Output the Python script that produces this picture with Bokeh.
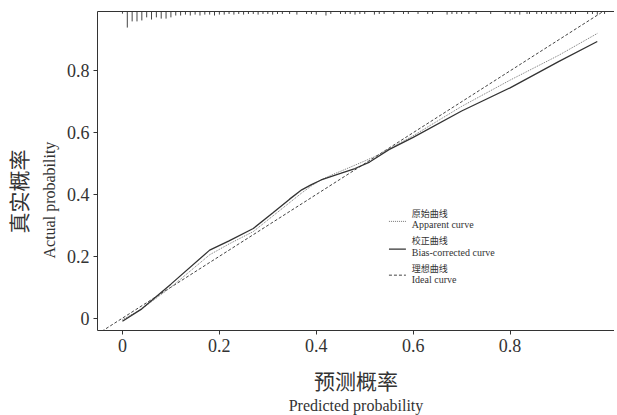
from bokeh.plotting import figure
from bokeh.models import Range1d, FixedTicker, NumeralTickFormatter, LinearAxis, Title, Label
from bokeh.embed import file_html
from bokeh.resources import INLINE

# ---- data ----
ticks = [0, 0.2, 0.4, 0.6, 0.8]

apparent_x = [0.00, 0.04, 0.10, 0.18, 0.22, 0.27, 0.31, 0.35, 0.37, 0.39, 0.41, 0.43, 0.45, 0.48, 0.52, 0.60, 0.70, 0.80, 0.90, 0.98]
apparent_y = [-0.005, 0.03, 0.10, 0.205, 0.24, 0.28, 0.33, 0.38, 0.405, 0.428, 0.447, 0.462, 0.475, 0.495, 0.522, 0.59, 0.685, 0.77, 0.85, 0.921]

corrected_x = [0.00, 0.04, 0.10, 0.18, 0.22, 0.27, 0.31, 0.345, 0.37, 0.39, 0.41, 0.43, 0.45, 0.48, 0.51, 0.55, 0.60, 0.70, 0.80, 0.90, 0.98]
corrected_y = [-0.01, 0.03, 0.11, 0.22, 0.25, 0.29, 0.34, 0.385, 0.415, 0.432, 0.447, 0.458, 0.468, 0.484, 0.505, 0.545, 0.585, 0.67, 0.745, 0.83, 0.895]

ideal_x = [-0.06, 1.02]
ideal_y = [-0.06, 1.02]

rug_x = [0.00, 0.01, 0.02, 0.03, 0.04, 0.05, 0.06, 0.07, 0.08, 0.09, 0.10,
         0.11, 0.12, 0.13, 0.14, 0.15, 0.16, 0.17, 0.18, 0.19, 0.20, 0.21,
         0.22, 0.23, 0.24, 0.25, 0.26, 0.27, 0.28, 0.29, 0.30, 0.31, 0.32,
         0.33, 0.345, 0.36, 0.38, 0.39, 0.40, 0.42, 0.43, 0.45, 0.46, 0.47,
         0.48, 0.49, 0.50, 0.52, 0.53, 0.54, 0.56, 0.58, 0.59, 0.61, 0.63,
         0.64, 0.67, 0.68, 0.69, 0.70, 0.715, 0.73, 0.76, 0.79, 0.80, 0.81,
         0.82, 0.835, 0.84, 0.855, 0.865, 0.875, 0.885, 0.895, 0.905, 0.915,
         0.925, 0.935, 0.96, 0.97, 0.98, 0.995]
rug_len = [0.007, 0.052, 0.032, 0.032, 0.029, 0.019, 0.026, 0.019, 0.023, 0.023, 0.019,
           0.013, 0.013, 0.010, 0.013, 0.010, 0.013, 0.010, 0.010, 0.013, 0.010, 0.010,
           0.008, 0.010, 0.008, 0.010, 0.008, 0.008, 0.010, 0.008, 0.008, 0.010, 0.008,
           0.008, 0.008, 0.010, 0.008, 0.008, 0.010, 0.013, 0.008, 0.008, 0.008, 0.008,
           0.010, 0.008, 0.008, 0.010, 0.008, 0.008, 0.008, 0.008, 0.008, 0.008, 0.008,
           0.008, 0.010, 0.008, 0.008, 0.008, 0.008, 0.008, 0.008, 0.008, 0.008, 0.008,
           0.010, 0.008, 0.008, 0.008, 0.008, 0.008, 0.008, 0.008, 0.008, 0.008,
           0.008, 0.008, 0.008, 0.008, 0.010, 0.008]

legend_labels_cn = ["原始曲线", "校正曲线", "理想曲线"]
legend_labels_en = ["Apparent curve", "Bias-corrected curve", "Ideal curve"]

# ---- figure ----
X0, X1 = -0.0515, 1.0155
Y0, Y1 = -0.040, 0.992

p = figure(width=614, height=415, output_backend="svg", toolbar_location=None,
           x_range=Range1d(X0, X1), y_range=Range1d(Y0, Y1),
           min_border_left=96, min_border_right=0, min_border_top=11, min_border_bottom=85)
p.outline_line_color = None
p.grid.visible = False
p.background_fill_color = "white"

serif = "Liberation Serif"
cjk = "Noto Sans CJK SC"
ink = "#333333"

for ax in (p.xaxis[0], p.yaxis[0]):
    ax.ticker = FixedTicker(ticks=ticks)
    ax.formatter = NumeralTickFormatter(format="0.[0]")
    ax.major_label_text_font = serif
    ax.major_label_text_font_size = "18px"
    ax.major_label_text_color = ink
    ax.major_tick_in = 0
    ax.major_tick_out = 4
    ax.minor_tick_line_color = None
    ax.axis_line_color = ink
    ax.major_tick_line_color = ink
    ax.axis_label_text_font_style = "normal"
    ax.axis_label_text_color = ink

p.xaxis[0].axis_label = "预测概率"
p.xaxis[0].axis_label_text_font = cjk
p.xaxis[0].axis_label_text_font_size = "21px"
p.xaxis[0].axis_label_standoff = 10
p.xaxis[0].major_label_standoff = 4

p.yaxis[0].major_label_standoff = 4

# top border line
top = LinearAxis(ticker=FixedTicker(ticks=[]), major_tick_line_color=None,
                 minor_tick_line_color=None, major_label_text_font_size="0px",
                 axis_line_color=ink)
p.add_layout(top, "above")

p.add_layout(Title(text="Predicted probability", text_font=serif, text_font_size="16px",
                   text_font_style="normal", text_color=ink, align="center", standoff=-5), "below")
p.add_layout(Title(text="Actual probability", text_font=serif, text_font_size="16px",
                   text_font_style="normal", text_color=ink, align="left", offset=72,
                   standoff=11), "left")
p.add_layout(Title(text="真实概率", text_font=cjk, text_font_size="21px",
                   text_font_style="normal", text_color=ink, align="left", offset=97,
                   standoff=1), "left")

# rug at top
p.segment(x0=rug_x, x1=rug_x, y0=[Y1] * len(rug_x),
          y1=[Y1 - l for l in rug_len], line_color="#444444", line_width=1)

# curves
p.line(ideal_x, ideal_y, line_color="#444444", line_width=1, line_dash="3 2")
p.line(apparent_x, apparent_y, line_color="#777777", line_width=1, line_dash="1 1")
p.line(corrected_x, corrected_y, line_color="#333333", line_width=1.3)

# legend (manual)
lx0, lx1, tx = 0.55, 0.585, 0.597
ly_cn = [0.339, 0.252, 0.161]
ly_en = [0.304, 0.213, 0.126]
ly_s = [0.313, 0.223, 0.139]
styles = [("#777777", "1 1", 1), ("#333333", "solid", 1.3), ("#444444", "3 2", 1)]
for i in range(3):
    c, d, w = styles[i]
    p.line([lx0, lx1], [ly_s[i], ly_s[i]], line_color=c, line_dash=d, line_width=w)
    p.add_layout(Label(x=tx, y=ly_cn[i], text=legend_labels_cn[i], text_font=cjk,
                       text_font_size="9px", text_color=ink, text_baseline="middle"))
    p.add_layout(Label(x=tx, y=ly_en[i], text=legend_labels_en[i], text_font=serif,
                       text_font_size="10px", text_color=ink, text_baseline="middle"))

open("out.html", "w").write(file_html(p, INLINE))
